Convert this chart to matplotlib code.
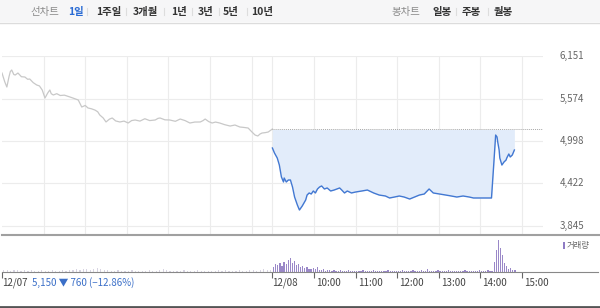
import matplotlib
matplotlib.use('Agg')
import matplotlib.pyplot as plt
from matplotlib.patches import Rectangle
from matplotlib.lines import Line2D

plt.rcParams['font.family'] = ['Noto Sans CJK KR', 'DejaVu Sans']

# previous day (12/07): minutes after 09:00, price
prev_min = [0, 4, 7, 10, 12, 14, 17, 19, 23, 28, 33, 37, 40, 45, 50, 54, 58, 62, 66, 69, 71, 74,
            79, 84, 90, 98, 104, 110, 115, 120, 124, 129, 134, 138, 141, 146, 150, 155, 159, 164,
            170, 176, 182, 187, 192, 199, 206, 213, 221, 225, 228, 235, 242, 250, 257, 264, 271,
            278, 286, 290, 293, 298, 303, 308, 314, 321, 329, 336, 343, 349, 355, 360, 365, 369,
            372, 375, 380, 384, 390]
prev_price = [5920, 5800, 5730, 5866, 5940, 5961, 5900, 5893, 5920, 5870, 5866, 5835, 5839, 5790,
              5758, 5745, 5690, 5581, 5650, 5690, 5640, 5622, 5640, 5615, 5620, 5595, 5575, 5554,
              5459, 5480, 5446, 5435, 5418, 5395, 5351, 5310, 5256, 5295, 5310, 5270, 5256, 5268,
              5242, 5275, 5283, 5268, 5300, 5275, 5283, 5305, 5310, 5285, 5283, 5265, 5296, 5275,
              5242, 5255, 5256, 5275, 5296, 5262, 5242, 5255, 5242, 5220, 5201, 5215, 5188, 5182,
              5174, 5125, 5079, 5066, 5092, 5106, 5112, 5120, 5161]

# current day (12/08)
cur_min = [0, 3, 7, 10, 13, 16, 17, 20, 23, 26, 29, 32, 36, 39, 43, 48, 50, 53, 56, 59, 62, 65,
           68, 71, 75, 79, 84, 89, 97, 100, 104, 108, 114, 120, 129, 137, 146, 154, 163, 169,
           176, 183, 190, 198, 205, 212, 219, 226, 232, 241, 250, 258, 266, 275, 284, 290, 298,
           310, 316, 319, 322, 324, 325, 327, 328, 331, 334, 337, 338, 341, 343, 346, 349]
cur_price = [4903, 4835, 4767, 4672, 4510, 4442, 4496, 4442, 4469, 4469, 4374, 4238, 4130, 4062,
             4116, 4198, 4265, 4293, 4279, 4320, 4293, 4347, 4374, 4388, 4347, 4361, 4320, 4333,
             4361, 4333, 4293, 4320, 4293, 4306, 4320, 4333, 4293, 4265, 4252, 4225, 4238, 4252,
             4238, 4211, 4238, 4265, 4279, 4347, 4293, 4279, 4265, 4252, 4238, 4252, 4238, 4225,
             4225, 4225, 4225, 4645, 5079, 5052, 4984, 4876, 4767, 4672, 4713, 4740, 4767, 4822,
             4781, 4808, 4876]
base_price = 5155

# volume (thousand shares): prev day every 5 min, current day every 3 min
prev_vol = [2, 2, 1, 2, 2, 1, 2, 1, 2, 1, 1, 2, 1, 1, 2, 1, 1, 2, 1, 2, 2, 3, 2, 3, 3, 2, 3, 4,
            3, 2, 2, 1, 1, 2, 1, 1, 1, 2, 1, 1, 1, 1, 2, 1, 1, 2, 3, 2, 1, 1, 1, 1, 2, 1, 1, 1,
            2, 1, 1, 1, 1, 1, 2, 1, 2, 1, 1, 1, 2, 1, 1, 2, 2, 1, 2, 3, 2, 2]
cur_vol = [5, 8, 7, 9, 6, 10, 8, 12, 14, 9,
           11, 7, 8, 5, 6, 4, 5, 3, 3, 4,
           3, 5, 2, 2, 3, 1, 2, 2, 1, 2,
           1, 1, 2, 1, 1, 1, 2, 1, 1, 1,
           1, 1, 1, 2, 1, 1, 1, 1, 2, 1,
           1, 1, 1, 1, 1, 2, 1, 1, 1, 1,
           1, 1, 2, 1, 1, 1, 1, 2, 1, 1,
           1, 2, 1, 1, 3, 1, 1, 1, 1, 2,
           1, 1, 1, 1, 2, 1, 1, 1, 1, 1,
           1, 1, 2, 1, 1, 1, 1, 1, 1, 2,
           1, 1, 1, 2, 1, 1, 10, 22, 32, 24,
           17, 9, 6, 3, 4, 2, 2]

price_ticks = [3845, 4422, 4998, 5574, 6151]
time_labels = ['10:00', '11:00', '12:00', '13:00', '14:00', '15:00']
top_left_tabs = ['선차트', '1일', '1주일', '3개월', '1년', '3년', '5년', '10년']
top_right_tabs = ['봉차트', '일봉', '주봉', '월봉']

W, H = 600, 308
PX = 41.6  # pixels per hour
fig = plt.figure(figsize=(6, 3.08), dpi=100)


def fx(px):
    return px / W


def fy(py):
    return 1 - py / H


# ---- top tab bar
fig.patches.append(Rectangle((0, fy(22)), 1, 22 / H, transform=fig.transFigure,
                             facecolor='#f6f6f7', edgecolor='none'))
fig.add_artist(Line2D([0, 1], [fy(22.5), fy(22.5)], color='#dcdcdc', lw=1))
lx = [30, 68, 96, 133, 171, 198, 223, 251]
for i, (t, x) in enumerate(zip(top_left_tabs, lx)):
    if i == 0:
        fig.text(fx(x), fy(11.5), t, fontsize=7.5, color='#8a8a8a', va='center')
    else:
        fig.text(fx(x), fy(11.5), t, fontsize=7.5, color='#2a6bd4' if i == 1 else '#333333',
                 fontweight='bold', va='center')
for x in [87, 126, 164, 192, 219, 247]:
    fig.add_artist(Line2D([fx(x), fx(x)], [fy(8), fy(15)], color='#dddddd', lw=0.8))
rx = [392, 432, 462, 494]
for i, (t, x) in enumerate(zip(top_right_tabs, rx)):
    if i == 0:
        fig.text(fx(x), fy(11.5), t, fontsize=7.5, color='#8a8a8a', va='center')
    else:
        fig.text(fx(x), fy(11.5), t, fontsize=7.5, color='#333333', fontweight='bold',
                 va='center')
for x in [456, 488]:
    fig.add_artist(Line2D([fx(x), fx(x)], [fy(8), fy(15)], color='#dddddd', lw=0.8))

# ---- price panel
ax = fig.add_axes([fx(2), fy(234), fx(541), (234 - 56) / H])
xmax = 541 / PX
ax.set_xlim(0, xmax)
ax.set_ylim(6151 - (234 - 56) * 576.5 / 42.5, 6151)
for s in ax.spines.values():
    s.set_visible(False)
ax.set_xticks([])
ax.set_yticks([])
for v in price_ticks:
    ax.axhline(v, color='#ececec', lw=0.8, zorder=0)
    ax.text(1 + 41 / 541, v, f'{v:,}', transform=ax.get_yaxis_transform(), ha='right',
            va='center', fontsize=7, color='#666666')
for h in [1, 2, 3, 4, 5, 6, 6.5, 7.5, 8.5, 9.5, 10.5, 11.5, 12.5]:
    ax.axvline(h, color='#ececec', lw=0.8, zorder=0)

px_ = [m / 60 for m in prev_min]
cx_ = [6.5 + m / 60 for m in cur_min]
ax.plot(px_, prev_price, color='#c8c8c8', lw=0.9, zorder=2)
ax.fill_between(cx_, cur_price, base_price, color='#e2ecfa', lw=0, zorder=1)
ax.plot([6.5, xmax], [base_price, base_price], color='#a8a8a8', lw=0.7, ls=(0, (1, 1)), zorder=2)
ax.plot(cx_, cur_price, color='#4278d2', lw=1.0, zorder=3)

fig.add_artist(Line2D([fx(2), 1], [fy(234.5), fy(234.5)], color='#a0a0a0', lw=1.5))

# ---- volume panel
vax = fig.add_axes([fx(2), fy(272), fx(596), 34 / H])
vax.set_xlim(0, 596 / PX)
vax.set_ylim(0, 34)
for k in ['top', 'right', 'left']:
    vax.spines[k].set_visible(False)
vax.spines['bottom'].set_color('#888888')
vax.spines['bottom'].set_linewidth(0.8)
vax.set_yticks([])
vax.bar([i * 5 / 60 + 0.04 for i in range(len(prev_vol))], prev_vol, width=0.03,
        color='#d8d4e2', lw=0)
vax.bar([6.5 + i * 3 / 60 + 0.03 for i in range(len(cur_vol))], cur_vol, width=0.03,
        color='#9a88c8', lw=0)
tick_pos = [0, 6.5] + [7.5 + i for i in range(len(time_labels))]
vax.set_xticks(tick_pos)
vax.set_xticklabels([])
vax.tick_params(axis='x', direction='out', length=4, width=0.8, color='#666666')
tr = vax.get_xaxis_transform()
vax.text(0, -11 / 34, '12/07', transform=tr, ha='left', va='center', fontsize=7, color='#444444')
vax.text(30 / PX, -11 / 34, '5,150 ▼ 760 (−12.86%)', transform=tr, ha='left', va='center',
         fontsize=7, color='#3b6fc8')
vax.text(6.5, -11 / 34, '12/08', transform=tr, ha='left', va='center', fontsize=7,
         color='#444444')
for p, t in zip(tick_pos[2:], time_labels):
    vax.text(p + 2 / PX, -11 / 34, t, transform=tr, ha='left', va='center', fontsize=7,
             color='#444444')
fig.patches.append(Rectangle((fx(563), fy(249)), 2 / W, 7 / H, transform=fig.transFigure,
                             facecolor='#8f7cc4', edgecolor='none'))
fig.text(fx(567), fy(245.5), '거래량', fontsize=6, color='#666666', va='center')

fig.add_artist(Line2D([0, 1], [fy(306.5), fy(306.5)], color='#555555', lw=2))

fig.savefig('out.png', dpi=100)
